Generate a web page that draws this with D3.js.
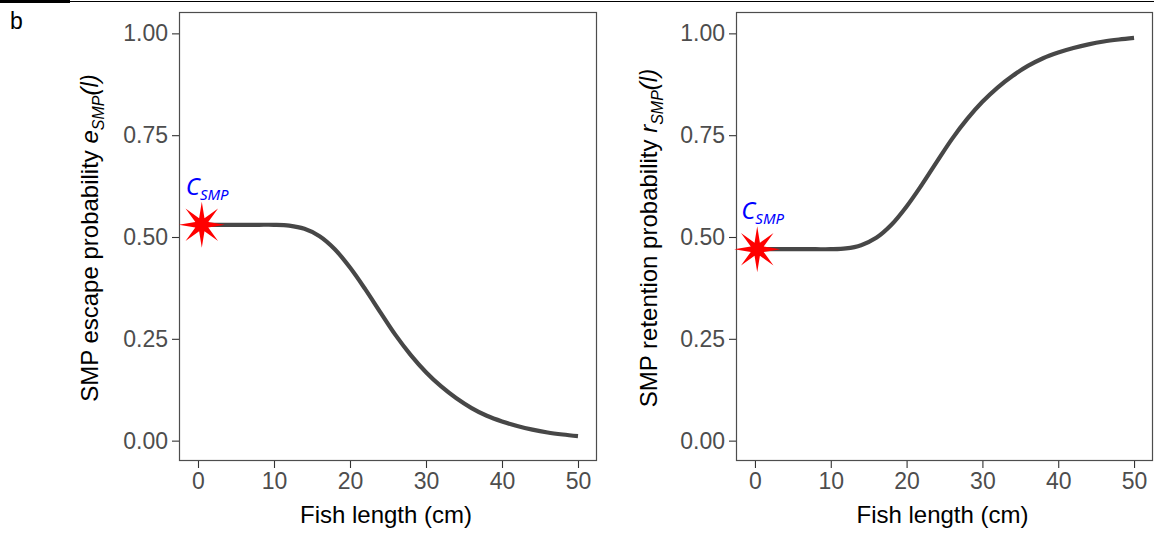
<!DOCTYPE html>
<html>
<head>
<meta charset="utf-8">
<script src="https://cdn.jsdelivr.net/npm/d3@7"></script>
<style>
  body { margin: 0; background: #fff; }
  svg { display: block; font-family: "Liberation Sans", Arial, sans-serif; }
  .tick text { fill: #4d4d4d; font-size: 23px; }
  .tick line { stroke: #333; stroke-width: 1.1px; }
  .axis path.domain { display: none; }
</style>
</head>
<body>
<svg id="chart" width="1154" height="533"></svg>
<script>
// fish length (cm)
var lengths = [0, 2, 4, 6, 8, 10, 12, 14, 16, 18, 20, 22, 24, 26, 28, 30,
               32, 34, 36, 38, 40, 42, 44, 46, 48, 50];
// SMP escape probability e_SMP(l)
var escape = [0.53, 0.53, 0.53, 0.53, 0.53, 0.53, 0.528, 0.52, 0.502, 0.47,
              0.425, 0.372, 0.315, 0.259, 0.21, 0.168, 0.133, 0.104, 0.080,
              0.061, 0.047, 0.036, 0.027, 0.020, 0.015, 0.011];
// SMP retention probability r_SMP(l)
var retention = [0.47, 0.47, 0.47, 0.47, 0.47, 0.47, 0.472, 0.48, 0.498, 0.53,
                 0.575, 0.628, 0.685, 0.741, 0.79, 0.832, 0.867, 0.896, 0.920,
                 0.939, 0.953, 0.964, 0.973, 0.980, 0.985, 0.989];
var xTicks = [0, 10, 20, 30, 40, 50];
var yTicks = [0, 0.25, 0.5, 0.75, 1];
var starLength = [0.5, 0.3];
var titles = [
  {pre: "SMP escape probability ", sym: "e"},
  {pre: "SMP retention probability ", sym: "r"}
];

var svg = d3.select("#chart");

// top rule + panel tag
svg.append("line").attr("x1", 0).attr("x2", 1154).attr("y1", 1.5).attr("y2", 1.5)
  .attr("stroke", "#000").attr("stroke-width", 1);
svg.append("rect").attr("x", 0).attr("y", 0).attr("width", 70).attr("height", 3).attr("fill", "#000");
svg.append("text").attr("x", 10).attr("y", 29).attr("font-size", 23).attr("fill", "#000").text("b");

var panels = [
  {left: 179, right: 597, values: escape, titleX: 98},
  {left: 736, right: 1153, values: retention, titleX: 657}
];

panels.forEach(function(p, i) {
  var x = d3.scaleLinear().domain([-2.5, 52.5]).range([p.left, p.right]);
  var y = d3.scaleLinear().domain([-0.05, 1.05]).range([461, 13]);
  var g = svg.append("g");

  g.append("rect")
    .attr("x", p.left + 0.5).attr("y", 12.5)
    .attr("width", p.right - p.left - 1).attr("height", 448)
    .attr("fill", "#fff").attr("stroke", "#4d4d4d").attr("stroke-width", 1.2);

  g.append("g").attr("class", "axis")
    .attr("transform", "translate(" + p.left + ",0)")
    .call(d3.axisLeft(y).tickValues(yTicks).tickSize(7).tickPadding(4)
          .tickFormat(d3.format(".2f")));

  g.append("g").attr("class", "axis")
    .attr("transform", "translate(0,461)")
    .call(d3.axisBottom(x).tickValues(xTicks).tickSize(7).tickPadding(5));

  var line = d3.line()
    .x(function(d, k) { return x(lengths[k]); })
    .y(function(d) { return y(d); })
    .curve(d3.curveCatmullRom.alpha(0.5));

  g.append("path").datum(p.values)
    .attr("d", line)
    .attr("fill", "none")
    .attr("stroke", "#474747")
    .attr("stroke-width", 4.2)
    .attr("stroke-linecap", "butt");

  // red star at the start of the curve
  var sx = x(starLength[i]), sy = y(p.values[0]);
  var star = d3.lineRadial()
    .angle(function(d) { return d * Math.PI / 8; })
    .radius(function(d) { return d % 2 ? 7 : 23; })
    .curve(d3.curveLinearClosed);
  g.append("path")
    .attr("d", star(d3.range(16)))
    .attr("transform", "translate(" + sx + "," + sy + ")")
    .attr("fill", "#ff0000");

  var lab = g.append("text")
    .attr("x", sx - 16).attr("y", sy - 30)
    .attr("fill", "#0000ff")
    .attr("font-family", "'Noto Sans', sans-serif")
    .attr("font-style", "italic");
  lab.append("tspan").attr("font-size", 24).text("C");
  lab.append("tspan").attr("font-size", 15).attr("dy", 5).text("SMP");

  // x title
  g.append("text")
    .attr("x", (p.left + p.right) / 2 - 2).attr("y", 523)
    .attr("text-anchor", "middle").attr("font-size", 24).attr("fill", "#000")
    .text("Fish length (cm)");

  // y title
  var yt = g.append("text")
    .attr("transform", "translate(" + p.titleX + ",238) rotate(-90)")
    .attr("text-anchor", "middle").attr("font-size", 24).attr("fill", "#000");
  yt.append("tspan").text(titles[i].pre);
  yt.append("tspan").attr("font-style", "italic").text(titles[i].sym);
  yt.append("tspan").attr("font-style", "italic").attr("font-size", 16).attr("dy", 6).text("SMP");
  yt.append("tspan").attr("font-style", "italic").attr("dy", -6).text("(l)");
});
</script>
</body>
</html>
